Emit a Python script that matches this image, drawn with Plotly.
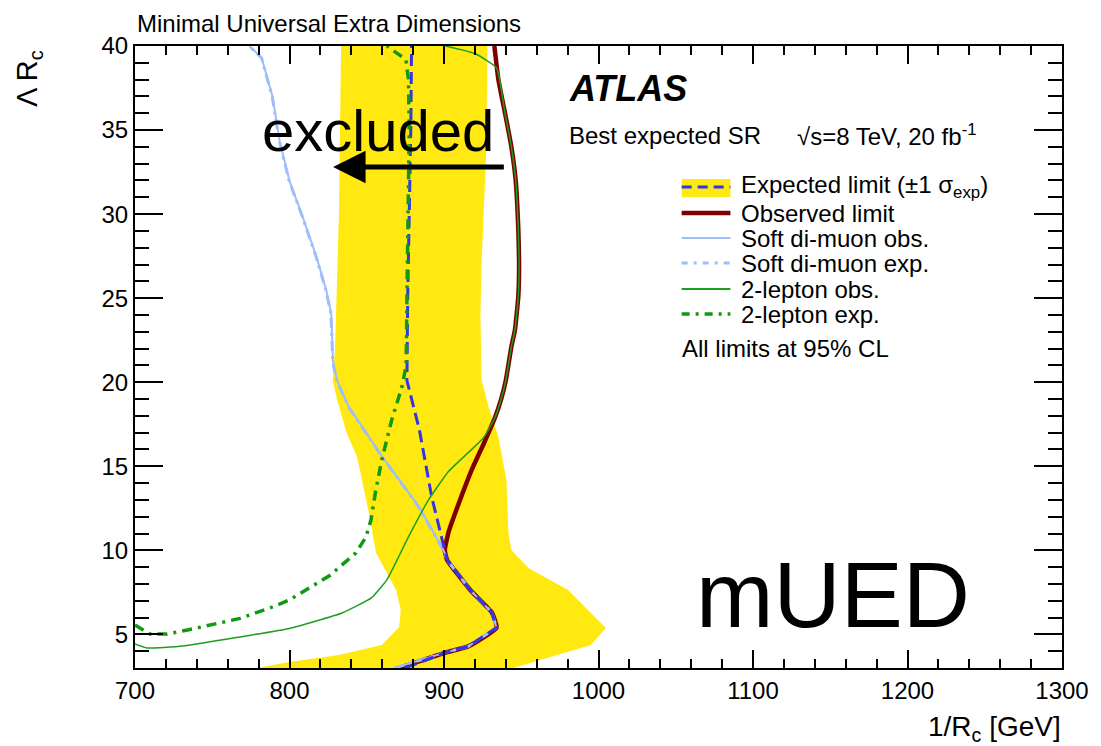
import plotly.graph_objects as go

# ---- data: 1/R_c [GeV] vs Lambda*R_c ----
band_left_x = [833.4, 832.0, 829.5, 828.0, 830.8, 837.0, 843.7, 851.4, 856.0, 869.0, 872.0, 871.0, 859.8, 832.0, 800.0, 778.6]
band_left_y = [40.0, 30.0, 22.0, 20.1, 18.95, 17.0, 15.56, 12.23, 9.85, 7.64, 6.45, 5.44, 4.37, 3.77, 3.36, 3.0]
band_right_x = [945.0, 970.0, 995.0, 1004.8, 995.0, 980.3, 954.6, 943.6, 941.7, 940.4, 935.2, 929.0, 924.3, 923.6, 924.3, 927.5, 928.1]
band_right_y = [3.0, 3.7, 4.37, 5.38, 6.27, 7.64, 8.95, 10.02, 11.04, 14.19, 16.75, 18.5, 20.14, 24.0, 27.1, 34.0, 40.0]

obs_x = [871, 900, 916, 934, 931, 917, 902, 900.5, 903, 910, 918, 926, 933, 937, 940, 943.6, 945.9,
         948.1, 948.6, 948.1, 946.4, 943.6, 939.5, 935.2, 932.6]
obs_y = [3.0, 3.89, 4.3, 5.4, 6.3, 7.64, 9.43, 10.0, 11.1, 12.9, 14.8, 16.4, 17.9, 19.0, 20.1, 22.1, 23.1,
         25.1, 27.1, 29.1, 32.0, 34.0, 36.0, 38.0, 40.0]

exp_x = [875, 900, 916, 934, 931, 917, 902, 900, 892, 884, 876, 876.5, 877.5, 878.5, 879]
exp_y = [3.0, 3.89, 4.3, 5.4, 6.3, 7.64, 9.43, 10.2, 13.2, 17.2, 20.1, 25.0, 30.0, 35.0, 40.0]

mu_obs_x = [868, 900, 916, 934, 931, 917, 902, 899.8, 883.7, 859.8, 838.6, 830.8, 828.2, 827.0, 823.7, 817.3, 808.3, 799.9, 793.5, 789.0, 782.0, 774.0]
mu_obs_y = [3.0, 3.9, 4.3, 5.4, 6.3, 7.64, 9.43, 10.0, 12.6, 15.6, 18.5, 20.1, 21.2, 24.1, 25.5, 27.5, 29.9, 32.0, 34.4, 37.0, 39.3, 40.0]

mu_exp_x = [868, 900, 916, 934, 931, 917, 902, 899.6, 883.5, 859.6, 838.4, 830.6, 828.0, 826.8, 823.5, 817.1, 808.1, 799.7, 793.3, 788.8, 781.8, 773.8]
mu_exp_y = [3.0, 3.9, 4.3, 5.4, 6.3, 7.64, 9.43, 10.0, 12.6, 15.6, 18.5, 20.1, 21.2, 24.1, 25.5, 27.5, 29.9, 32.0, 34.4, 37.0, 39.3, 40.0]

lep_obs_x = [700, 707.7, 731, 768, 800, 834, 853, 863, 877, 890, 903, 925.6, 933, 937, 940, 943.6, 945.9,
             948.1, 948.6, 948.1, 946.4, 943.6, 939.5, 934, 920, 901]
lep_obs_y = [4.43, 4.19, 4.31, 4.85, 5.35, 6.27, 7.17, 8.24, 10.8, 13.0, 14.7, 16.7, 17.9, 19.0, 20.1, 22.1, 23.1,
             25.1, 27.1, 29.1, 32.0, 34.0, 36.0, 38.7, 39.55, 40.0]

lep_exp_x = [700, 709.7, 720.6, 734, 768, 789, 800, 811, 826, 843, 849.5, 852.7, 855.9, 859.8, 866.3, 872.7, 875.5, 876, 877, 877.5, 877, 875.3, 863]
lep_exp_y = [5.56, 5.02, 5.02, 5.26, 5.95, 6.63, 7.05, 7.64, 8.5, 9.85, 10.8, 11.8, 13.6, 15.4, 17.8, 19.7, 21.0, 25.0, 30.0, 35.0, 38.0, 39.2, 40.0]

x_ticks = [700, 800, 900, 1000, 1100, 1200, 1300]
y_ticks = [5, 10, 15, 20, 25, 30, 35, 40]

YELLOW = "#FFE910"
DARKRED = "#800000"
BLUE = "#3333EE"
LIGHTBLUE = "#9DBDFB"
GREEN = "#1E9E1E"
FONT = "Liberation Sans, Arial, sans-serif"

W, H = 1101, 746
ML, MR, MT, MB = 135, 35, 46, 78
PW, PH = W - ML - MR, H - MT - MB


def px(xp):
    return (xp - ML) / PW


def py(yp):
    return (H - MB - yp) / PH


fig = go.Figure()

# +-1 sigma band
fig.add_trace(go.Scatter(
    x=band_left_x + band_right_x, y=band_left_y + band_right_y,
    fill="toself", fillcolor=YELLOW, line=dict(width=0, color=YELLOW),
    mode="lines", hoverinfo="skip", showlegend=False))

fig.add_trace(go.Scatter(x=obs_x, y=obs_y, mode="lines", line_shape="spline",
                         line=dict(color=DARKRED, width=4.5, smoothing=0.4), showlegend=False))
fig.add_trace(go.Scatter(x=mu_obs_x, y=mu_obs_y, mode="lines",
                         line=dict(color=LIGHTBLUE, width=2), showlegend=False))
fig.add_trace(go.Scatter(x=mu_exp_x, y=mu_exp_y, mode="lines",
                         line=dict(color=LIGHTBLUE, width=3, dash="10px,5px,3px,5px"),
                         showlegend=False))
fig.add_trace(go.Scatter(x=exp_x, y=exp_y, mode="lines",
                         line=dict(color=BLUE, width=3, dash="12px,6px"), showlegend=False))
fig.add_trace(go.Scatter(x=lep_obs_x, y=lep_obs_y, mode="lines", line_shape="spline",
                         line=dict(color=GREEN, width=1.5, smoothing=0.4), showlegend=False))
fig.add_trace(go.Scatter(x=lep_exp_x, y=lep_exp_y, mode="lines",
                         line=dict(color="#119911", width=3.5, dash="10px,6px,3px,6px"),
                         showlegend=False))

annotations = []
shapes = []

# legend block drawn by hand, ROOT style
leg_x0, leg_x1 = px(684), px(733)
shapes.append(dict(type="rect", xref="paper", yref="paper", x0=leg_x0, x1=leg_x1,
                   y0=py(197), y1=py(179), fillcolor=YELLOW, line=dict(width=0)))
leg_rows = [
    (187, BLUE, 3, "10px,6px", "Expected limit (\u00b11 \u03c3<sub>exp</sub>)"),
    (213, DARKRED, 4.5, "solid", "Observed limit"),
    (238, LIGHTBLUE, 2, "solid", "Soft di-muon obs."),
    (263, LIGHTBLUE, 3, "6px,6px,3px,6px", "Soft di-muon exp."),
    (289, GREEN, 1.8, "solid", "2-lepton obs."),
    (314, "#119911", 3.5, "8px,6px,3px,6px", "2-lepton exp."),
]
for yrow, col, wid, dash, label in leg_rows:
    shapes.append(dict(type="line", xref="paper", yref="paper", x0=leg_x0, x1=leg_x1,
                       y0=py(yrow), y1=py(yrow), line=dict(color=col, width=wid, dash=dash)))
    annotations.append(dict(xref="paper", yref="paper", x=px(742), y=py(yrow),
                            xanchor="left", yanchor="middle", showarrow=False,
                            text=label, font=dict(size=24, color="black", family=FONT)))

annotations += [
    dict(xref="paper", yref="paper", x=px(682), y=py(348), xanchor="left", yanchor="middle",
         showarrow=False, text="All limits at 95% CL",
         font=dict(size=24, color="black", family=FONT)),
    dict(xref="paper", yref="paper", x=px(569), y=py(88), xanchor="left", yanchor="middle",
         showarrow=False, text="<b><i>ATLAS</i></b>",
         font=dict(size=36, color="black", family=FONT)),
    dict(xref="paper", yref="paper", x=px(569), y=py(135), xanchor="left", yanchor="middle",
         showarrow=False, text="Best expected SR",
         font=dict(size=24, color="black", family=FONT)),
    dict(xref="paper", yref="paper", x=px(798), y=py(135), xanchor="left", yanchor="middle",
         showarrow=False, text="\u221as=8 TeV, 20 fb<sup>-1</sup>",
         font=dict(size=24, color="black", family=FONT)),
    dict(xref="paper", yref="paper", x=0, y=py(24), xanchor="left", yanchor="middle",
         showarrow=False, text="Minimal Universal Extra Dimensions",
         font=dict(size=24, color="black", family=FONT)),
    dict(xref="paper", yref="paper", x=px(1067), y=py(728), xanchor="right", yanchor="middle",
         showarrow=False, text="1/R<sub>c</sub> [GeV]",
         font=dict(size=28, color="black", family=FONT)),
    dict(xref="paper", yref="paper", x=px(29), y=py(48), xanchor="center", yanchor="top",
         showarrow=False, textangle=-90, text="\u039b R<sub>c</sub>",
         font=dict(size=29, color="black", family=FONT)),
    dict(xref="x", yref="y", x=857.6, y=35.0, xanchor="center", yanchor="middle",
         showarrow=False, text="excluded",
         font=dict(size=58, color="black", family=FONT)),
    dict(xref="x", yref="y", x=1151.8, y=7.35, xanchor="center", yanchor="middle",
         showarrow=False, text="mUED",
         font=dict(size=93, color="black", family=FONT)),
    # arrow pointing towards the excluded region
    dict(xref="x", yref="y", axref="x", ayref="y", x=828.2, y=32.8, ax=939.7, ay=32.8,
         showarrow=True, arrowhead=2, arrowsize=1.3, arrowwidth=5, arrowcolor="black",
         text=""),
]

axis_common = dict(
    showline=True, linecolor="black", linewidth=2, mirror="allticks",
    ticks="inside", tickcolor="black", tickwidth=2,
    showgrid=False, zeroline=False,
    tickfont=dict(size=24, color="black", family=FONT),
)

fig.update_layout(
    width=W, height=H,
    margin=dict(l=ML, r=MR, t=MT, b=MB),
    paper_bgcolor="white", plot_bgcolor="white",
    showlegend=False,
    xaxis=dict(range=[700, 1300], tickvals=x_ticks, ticklen=18,
               minor=dict(dtick=20, tick0=700, ticks="inside", ticklen=9,
                          tickcolor="black", tickwidth=2, showgrid=False),
               **axis_common),
    yaxis=dict(range=[3, 40], tickvals=y_ticks, ticklen=28,
               minor=dict(dtick=1, tick0=0, ticks="inside", ticklen=14,
                          tickcolor="black", tickwidth=2, showgrid=False),
               **axis_common),
    annotations=annotations,
    shapes=shapes,
)

fig.write_html("out.html")
